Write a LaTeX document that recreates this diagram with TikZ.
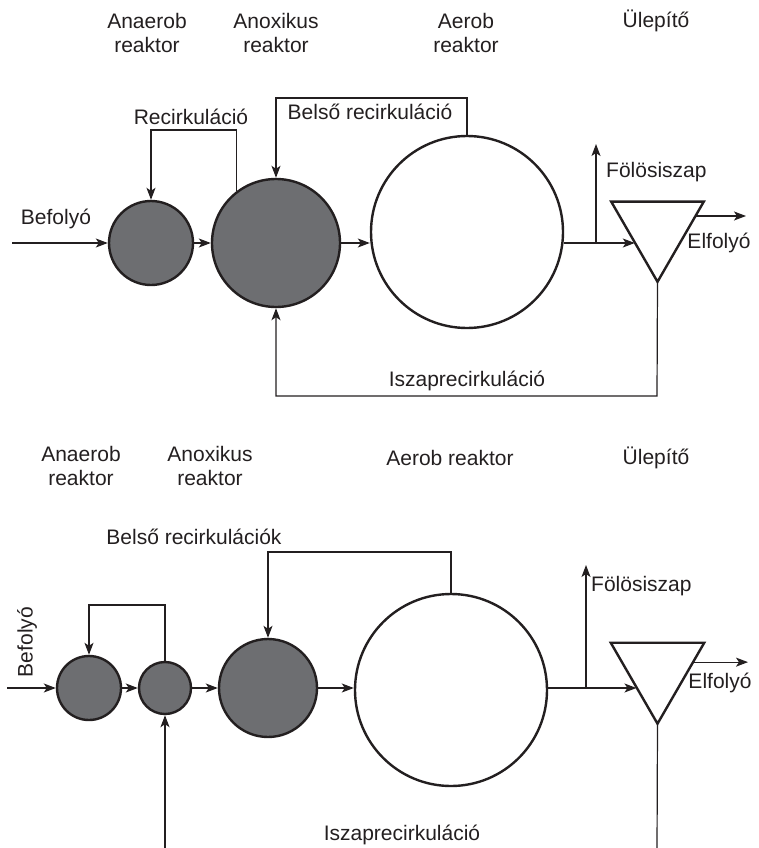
\documentclass[tikz,border=0pt]{standalone}
\usepackage{fontspec}
\setmainfont{Liberation Sans}
\usepackage{tikz}
\usepackage{tkz-euclide}
\usetikzlibrary{calc}
\usetikzlibrary{shapes.geometric}
\usetikzlibrary{arrows.meta}

\definecolor{inkdark}{HTML}{231F20}
\definecolor{sludgegray}{HTML}{6D6E71}

\tikzset{
  reactor/.style={circle,draw=inkdark,line width=2.4pt,fill=sludgegray,inner sep=0pt},
  aerobic/.style={reactor,fill=white},
  settler/.style={regular polygon,regular polygon sides=3,shape border rotate=180,
    draw=inkdark,line width=2.4pt,inner sep=0pt,outer sep=0pt,minimum size=#1},
  flow/.style={draw=inkdark,line width=1.2pt},
  lbl/.style={font=\fontsize{21}{24.5}\selectfont,text=inkdark,inner sep=0pt,align=center},
}

\begin{document}
\begin{tikzpicture}[%
  >={Stealth[length=12pt,width=9pt,inset=3pt]},
  x=1pt,
  y=-1pt,
]

  \useasboundingbox (0,0) rectangle (758,848);

  % upper scheme
  \node[lbl] (tan1) at (147,33) {Anaerob\\reaktor};
  \node[lbl] (tax1) at (276,33) {Anoxikus\\reaktor};
  \node[lbl] (tae1) at (466,33) {Aerob\\reaktor};
  \node[lbl] (tst1) at (656,21) {Ülepítő};

  \node[reactor,minimum size=84pt] (an1) at (151,243) {};
  \node[reactor,minimum size=128pt] (ax1) at (276,243) {};
  \node[aerobic,minimum size=192pt] (ae1) at (467,232) {};
  \node[settler=107pt] (st1) at (657.5,228.3) {};

  \tkzDefPoint(12,243){in1}
  \tkzDefPoint(596,243){sp1}
  \tkzDefPoint(596,144){fs1}
  \tkzDefPoint(746,216){ef1}
  \tkzDefPoint(657,396){rs1}
  \tkzDefPoint(151,130){rc1}
  \tkzDefPoint(276,98){br1}
  \coordinate (eo1) at ($(st1.corner 2)!0.18!(st1.corner 1)$);
  \coordinate (ei1) at ($(st1.corner 3)!0.51!(st1.corner 1)$);

  \draw[flow,->] (in1) -- (an1);
  \draw[flow,->] (an1) -- (ax1);
  \draw[flow,->] (ax1.east) -- (ax1.east -| ae1.west);
  \draw[flow] (ae1.east |- sp1) -- (sp1);
  \draw[flow,->] (sp1) -- (sp1 -| ei1);
  \draw[flow,->] (sp1) -- (fs1);
  \draw[flow,->] (eo1) -- (eo1 -| ef1);
  \draw[flow,->] (st1.corner 1) -- (rs1) -| (ax1.south);
  \draw[flow,->] (ax1.127) |- (rc1) -- (an1.north);
  \draw[flow,->] (ae1.north) |- (br1) -- (ax1.north);

  \node[lbl] (befoly1) at (56,219) {Befolyó};
  \node[lbl] (recirk1) at (191,117) {Recirkuláció};
  \node[lbl] (belso1) at (370,112) {Belső recirkuláció};
  \node[lbl,anchor=west] (folos1) at (606,172) {Fölösiszap};
  \node[lbl] (elfoly1) at (719,243) {Elfolyó};
  \node[lbl] (iszap1) at (467,381) {Iszaprecirkuláció};

  % lower scheme
  \node[lbl] (tan2) at (81,466) {Anaerob\\reaktor};
  \node[lbl] (tax2) at (210,466) {Anoxikus\\reaktor};
  \node[lbl] (tae2) at (450,458) {Aerob reaktor};
  \node[lbl] (tst2) at (656,458) {Ülepítő};

  \node[reactor,minimum size=64pt] (an2) at (89,688) {};
  \node[reactor,minimum size=52pt] (ax2) at (165,688) {};
  \node[reactor,minimum size=98pt] (ax3) at (268,688) {};
  \node[aerobic,minimum size=192pt] (ae2) at (451,690) {};
  \node[settler=108pt] (st2) at (657.5,669.7) {};

  \tkzDefPoint(7,688){in2}
  \tkzDefPoint(586,688){sp2}
  \tkzDefPoint(586,565){fs2}
  \tkzDefPoint(748,662){ef2}
  \tkzDefPoint(657,850){rs2}
  \tkzDefPoint(165,850){rs3}
  \tkzDefPoint(89,605){rc2}
  \tkzDefPoint(268,552){br2}
  \coordinate (eo2) at ($(st2.corner 2)!0.24!(st2.corner 1)$);
  \coordinate (ei2) at ($(st2.corner 3)!0.55!(st2.corner 1)$);

  \draw[flow,->] (in2) -- (an2);
  \draw[flow,->] (an2) -- (ax2);
  \draw[flow,->] (ax2) -- (ax3);
  \draw[flow,->] (ax3.east) -- (ax3.east -| ae2.west);
  \draw[flow] (ae2.east |- sp2) -- (sp2);
  \draw[flow,->] (sp2) -- (sp2 -| ei2);
  \draw[flow,->] (sp2) -- (fs2);
  \draw[flow,->] (eo2) -- (eo2 -| ef2);
  \draw[flow] (st2.corner 1) -- (rs2);
  \draw[flow,->] (rs3) -- (ax2.south);
  \draw[flow,->] (ax2.north) |- (rc2) -- (an2.north);
  \draw[flow,->] (ae2.north) |- (br2) -- (ax3.north);

  \node[lbl,rotate=90] (befoly2) at (27,642) {Befolyó};
  \node[lbl] (belso2) at (194,537) {Belső recirkulációk};
  \node[lbl,anchor=west] (folos2) at (591,586) {Fölösiszap};
  \node[lbl] (elfoly2) at (720,683) {Elfolyó};
  \node[lbl] (iszap2) at (402,835) {Iszaprecirkuláció};

\end{tikzpicture}
\end{document}
